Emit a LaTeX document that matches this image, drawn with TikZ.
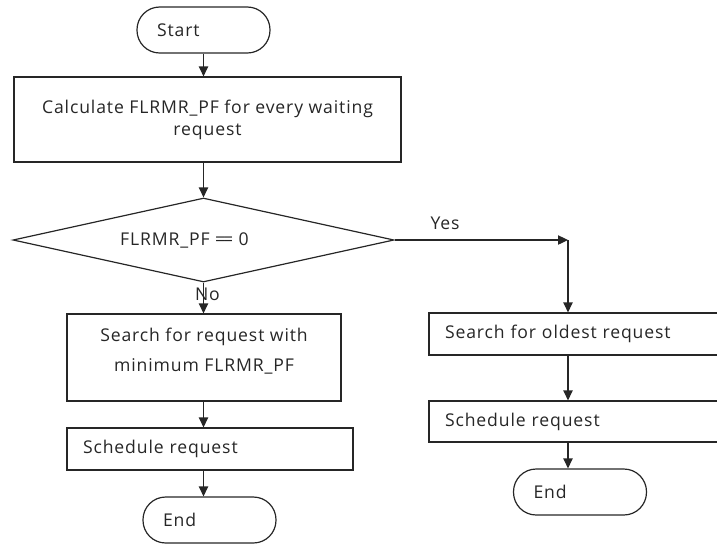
\documentclass[tikz,border=0pt]{standalone}
\usepackage{fontspec}
\setmainfont{Open Sans}[LetterSpace=5]
\usetikzlibrary{arrows.meta,shapes.geometric}

\begin{document}
\begin{tikzpicture}[x=0.75pt,y=-0.75pt,
  font=\fontsize{13.2}{16.5}\selectfont,
  line width=0.9pt, color=black!85,
  term/.style={draw, rectangle, rounded corners=17pt,
    minimum width=99.75pt, minimum height=34.5pt,
    inner xsep=15pt, text width=69.75pt, align=left},
  proc/.style={draw, rectangle, inner sep=0pt, align=center},
  procl/.style={draw, rectangle, inner ysep=0pt, inner xsep=12pt, align=left},
  decide/.style={draw, diamond, inner sep=0pt,
    minimum width=285.75pt, minimum height=63pt},
  arr/.style={-{Triangle[length=7.5pt,width=7pt]}},
  lbl/.style={inner sep=0pt}]

\useasboundingbox (0,0) rectangle (717,544);
\clip (0,0) rectangle (717,544);

% left column
\node[term] (start) at (203.5,30) {Start};
\node[proc, minimum width=290.25pt, minimum height=63.75pt] (calc) at (207.5,119.5)
  {Calculate FLRMR\_PF for every waiting\\request};
\node[decide] (dec) at (203.5,240) {};
\node[lbl] (dectext) at (184.5,240) {FLRMR\_PF =\kern-0.12em= 0};
\node[proc, minimum width=205.5pt, minimum height=65.25pt, text depth=11pt,
  font=\fontsize{13.2}{22.5}\selectfont] (srchL) at (204,357.5)
  {Search for request with\\minimum FLRMR\_PF};
\node[procl, text width=190.5pt, minimum height=31.5pt] (schedL) at (210,449)
  {Schedule request};
\node[term] (endL) at (209.5,520) {End};

% right column
\coordinate (yc) at (568,240);
\node[procl, text width=201.75pt, minimum height=31.5pt] (srchR) at (579.5,334)
  {Search for oldest request};
\node[procl, text width=201.75pt, minimum height=30.75pt] (schedR) at (579.5,421.5)
  {Schedule request};
\node[term] (endR) at (580,492) {End};

% connectors
\draw[arr] (start.south) -- (calc.north -| start.south);
\draw[arr] (calc.south -| start.south) -- (dec.north);
\draw[arr] (dec.south) -- (srchL.north -| dec.south);
\draw[arr] (srchL.south -| dec.south) -- (schedL.north -| dec.south);
\draw[arr] (schedL.south -| dec.south) -- (endL.north -| dec.south);
\draw[arr] (dec.east) -- (yc);
\draw[arr] (yc) -- (srchR.north -| yc);
\draw[arr] (srchR.south -| yc) -- (schedR.north -| yc);
\draw[arr] (schedR.south -| yc) -- (endR.north -| yc);

% branch labels
\node[lbl] (yes) at (445,223) {Yes};
\node[lbl] (no) at (207.5,294) {No};
\end{tikzpicture}
\end{document}
